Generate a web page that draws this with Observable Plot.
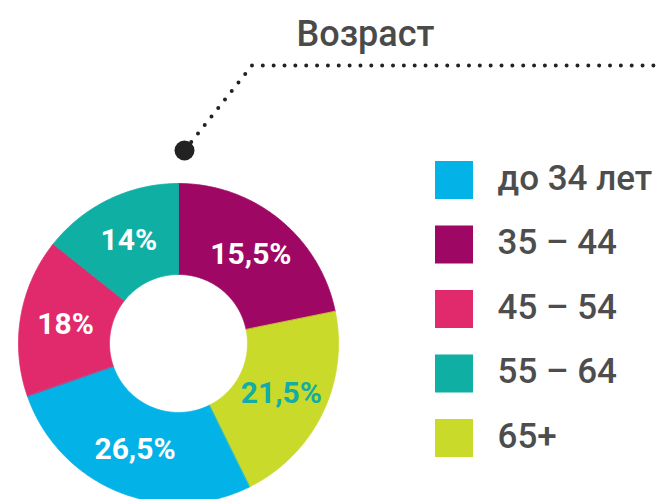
<!DOCTYPE html>
<html><head><meta charset="utf-8">
<script src="https://cdn.jsdelivr.net/npm/d3@7"></script>
<script src="https://cdn.jsdelivr.net/npm/@observablehq/plot@0.6"></script>
<style>html,body{margin:0;padding:0;background:#fff} svg{display:block}</style>
</head><body><div id="chart"></div>
<script>
// ---- data ----
const title = "Возраст";
const categories = ["до 34 лет", "35 – 44", "45 – 54", "55 – 64", "65+"];
const shares = [27.0, 21.8, 16.0, 14.3, 20.9];          // arc sizes as drawn in the picture
const labels = ["26,5%", "15,5%", "18%", "14%", "21,5%"]; // printed values
const sliceOrder = ["35 – 44", "65+", "до 34 лет", "45 – 54", "55 – 64"]; // clockwise from top
const colors = ["#03b3e7", "#9f0765", "#e02a6b", "#0fafa4", "#c9da2a"];
const labelColors = ["#ffffff", "#ffffff", "#ffffff", "#ffffff", "#14aca6"];

// ---- layout ----
const W = 659, H = 499;
const cx = 178, cy = 343, rOuter = 160, rInner = 69;
const legendX1 = 435, legendX2 = 473, legendTop = 161, legendStep = 64.5, legendSize = 38, legendTextX = 497;
const leader = [{x: 184, y: 150}, {x: 251.5, y: 65}, {x: 665, y: 65}];

const rows = sliceOrder.map(k => {
  const i = categories.indexOf(k);
  return {key: k, share: shares[i], label: labels[i], labelColor: labelColors[i]};
});
const arcs = d3.pie().sort(null).value(d => d.share)(rows);
const arcGen = d3.arc().innerRadius(rInner).outerRadius(rOuter);

const polys = [];
for (const a of arcs) {
  const n = Math.max(2, Math.ceil((a.endAngle - a.startAngle) / 0.01));
  for (let j = 0; j <= n; j++) {
    const t = a.startAngle + (a.endAngle - a.startAngle) * j / n;
    polys.push({key: a.data.key, px: cx + rOuter * Math.sin(t), py: cy - rOuter * Math.cos(t)});
  }
  for (let j = n; j >= 0; j--) {
    const t = a.startAngle + (a.endAngle - a.startAngle) * j / n;
    polys.push({key: a.data.key, px: cx + rInner * Math.sin(t), py: cy - rInner * Math.cos(t)});
  }
}
const sliceLabels = arcs.map(a => {
  const c = arcGen.centroid(a);
  return {x: cx + c[0], y: cy + c[1], text: a.data.label, color: a.data.labelColor};
});

const chart = Plot.plot({
  width: W, height: H,
  margin: 0,
  x: {domain: [0, W], range: [0, W], axis: null},
  y: {domain: [0, H], range: [0, H], axis: null},
  color: {domain: categories, range: colors},
  style: {fontFamily: "Roboto, 'DejaVu Sans', sans-serif", background: "white"},
  marks: [
    Plot.line(polys, {x: "px", y: "py", z: "key", fill: "key", stroke: "key", strokeWidth: 0.8, curve: "linear-closed"}),
    Plot.text(sliceLabels, {x: "x", y: "y", text: "text", fill: d => d.color, fontSize: 30, fontWeight: "bold"}),
    Plot.line(leader, {x: "x", y: "y", stroke: "#222", strokeWidth: 4, strokeDasharray: "0 10.85", strokeLinecap: "round"}),
    Plot.dot([leader[0]], {x: "x", y: "y", r: 10, fill: "#222", stroke: null}),
    Plot.text([title], {x: 365, y: 33.5, text: d => d, fontSize: 36, fontWeight: 500, fill: "#4a4a4a"}),
    Plot.rect(categories, {
      x1: legendX1, x2: legendX2,
      y1: (d, i) => legendTop + i * legendStep,
      y2: (d, i) => legendTop + i * legendStep + legendSize,
      fill: d => d
    }),
    Plot.text(categories, {
      x: legendTextX, y: (d, i) => legendTop + legendSize / 2 + i * legendStep,
      text: d => d, textAnchor: "start", fontSize: 35, fontWeight: 500, fill: "#4d4d4d", dy: -2
    })
  ]
});
document.getElementById("chart").appendChild(chart);
</script>
</body></html>
